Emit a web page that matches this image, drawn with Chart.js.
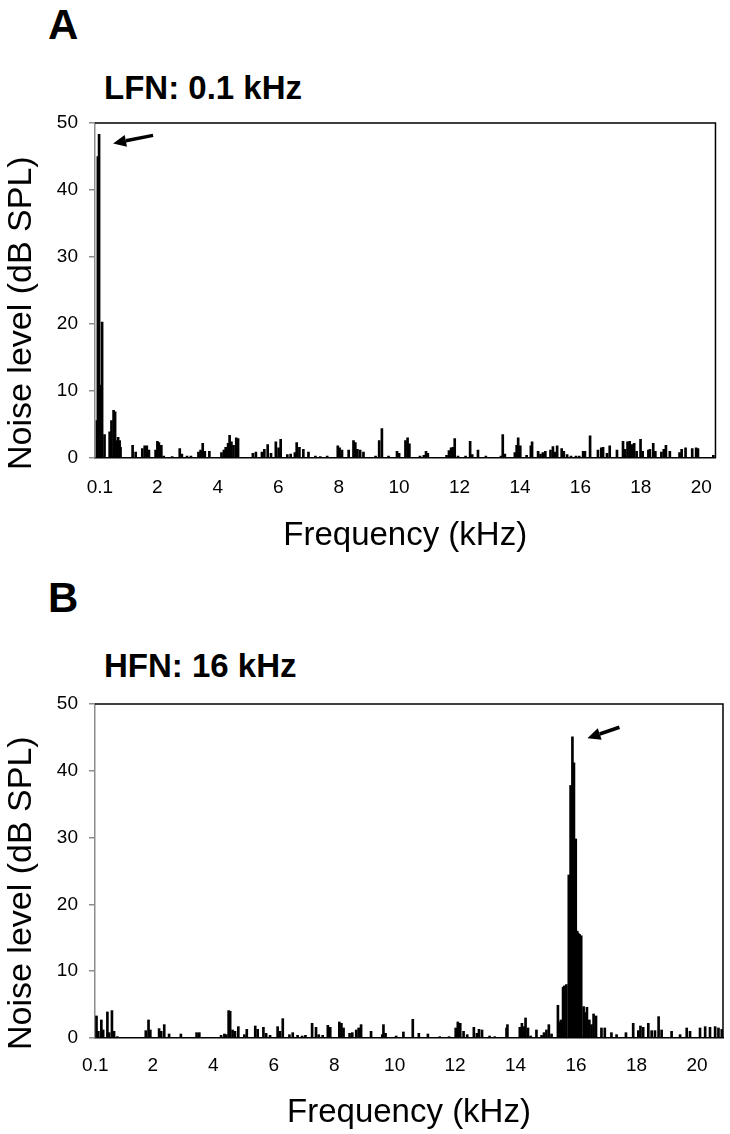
<!DOCTYPE html>
<html>
<head>
<meta charset="utf-8">
<script src="https://cdn.jsdelivr.net/npm/chart.js@4.4.1/dist/chart.umd.min.js"></script>
<style>
  html, body { margin: 0; padding: 0; background: #fff; }
  #pagina { position: relative; width: 730px; height: 1134px; font-family: 'Liberation Sans', Arial, sans-serif; color: #000; }
  .letra  { position: absolute; left: 48px; font-size: 42px; font-weight: bold; line-height: 42px; }
  .titulo { position: absolute; left: 104px; font-size: 33px; font-weight: bold; line-height: 33px; }
  .painel { position: absolute; left: 0; width: 730px; height: 567px; }
</style>
</head>
<body>
<div id="pagina">
  <div class="letra" style="top:4px">A</div>
  <div class="titulo" style="top:71px">LFN: 0.1 kHz</div>
  <div class="painel" style="top:0px"><canvas id="graficoA" width="730" height="567"></canvas></div>

  <div class="letra" style="top:577px">B</div>
  <div class="titulo" style="top:649px">HFN: 16 kHz</div>
  <div class="painel" style="top:567px"><canvas id="graficoB" width="730" height="567"></canvas></div>
</div>

<script>
// ── Dados (kHz / dB SPL) ──────────────────────────────────
var TICKS_X = [0.1, 2, 4, 6, 8, 10, 12, 14, 16, 18, 20];
var TICKS_Y = [0, 10, 20, 30, 40, 50];

// A: ruído de baixa frequência (pico em 0.1 kHz)
var FREQ_A = [
  0.00, 0.03, 0.07, 0.10, 0.17, 0.25, 0.42, 0.48, 0.55, 0.60, 0.65, 0.70, 0.75, 0.78,
  1.18, 1.28, 1.50, 1.58, 1.65, 1.72, 1.94, 2.00, 2.05, 2.13, 2.21, 2.49, 2.74, 2.81,
  2.98, 3.11, 3.36, 3.43, 3.50, 3.57, 3.72, 4.12, 4.20, 4.26, 4.34, 4.39, 4.45, 4.52,
  4.61, 4.67, 5.16, 5.26, 5.46, 5.54, 5.65, 5.76, 5.92, 6.01, 6.08, 6.30, 6.41, 6.55,
  6.61, 6.70, 6.83, 7.00, 7.23, 7.39, 7.62, 7.97, 8.03, 8.11, 8.33, 8.49, 8.55, 8.62,
  8.71, 8.82, 9.22, 9.34, 9.43, 9.65, 9.93, 10.00, 10.21, 10.28, 10.34, 10.69, 10.82,
  10.89, 10.95, 11.57, 11.65, 11.72, 11.78, 11.84, 11.95, 12.20, 12.35, 12.42, 12.61,
  12.87, 13.37, 13.43, 13.50, 13.83, 13.89, 13.94, 14.01, 14.22, 14.36, 14.40, 14.60,
  14.68, 14.76, 14.84, 15.01, 15.09, 15.16, 15.23, 15.38, 15.45, 15.56, 15.69, 15.85,
  15.96, 16.09, 16.15, 16.32, 16.58, 16.69, 16.75, 16.88, 16.97, 17.21, 17.41, 17.48,
  17.56, 17.63, 17.70, 17.78, 17.86, 17.99, 18.06, 18.25, 18.30, 18.41, 18.48, 18.68,
  18.76, 18.83, 18.96, 19.28, 19.35, 19.48, 19.70, 19.83, 19.89, 20.40
];
var NIVEL_A = [
  5.6, 45.0, 48.3, 10.9, 20.3, 3.5, 3.9, 5.6, 7.1, 6.9, 2.6, 3.1, 2.6, 1.6,
  1.9, 0.9, 1.4, 1.8, 1.8, 1.2, 1.2, 2.5, 2.3, 1.9, 0.3, 0.2, 1.4, 0.6,
  0.3, 0.3, 0.9, 1.2, 2.2, 1.0, 1.0, 0.8, 1.2, 1.6, 2.2, 3.4, 2.4, 1.9,
  3.0, 2.9, 0.7, 0.9, 0.9, 1.3, 2.0, 0.7, 2.4, 1.5, 2.8, 0.5, 0.6, 0.8,
  2.3, 1.6, 1.3, 0.9, 0.3, 0.2, 0.3, 1.8, 1.5, 1.2, 1.2, 2.6, 2.3, 1.3,
  1.2, 0.9, 0.3, 2.6, 4.4, 0.3, 1.0, 0.7, 2.6, 3.0, 2.1, 0.3, 0.4,
  1.0, 0.7, 0.4, 1.1, 1.5, 1.6, 2.9, 0.3, 0.3, 2.5, 0.5, 1.2,
  0.3, 0.3, 3.5, 0.6, 0.8, 1.9, 3.0, 1.8, 0.4, 1.8, 2.4, 1.0,
  0.6, 0.8, 1.0, 1.2, 1.7, 0.9, 1.8, 1.4, 1.0, 0.5, 0.3, 0.3,
  0.3, 1.0, 1.0, 3.3, 1.2, 1.5, 1.6, 0.7, 1.8, 1.2, 2.5, 1.3,
  2.4, 2.5, 2.0, 2.2, 1.0, 2.8, 1.0, 1.2, 1.3, 2.2, 1.0, 0.9,
  1.3, 1.9, 1.0, 0.8, 1.3, 1.5, 1.4, 1.5, 1.4, 0.4
];

// B: ruído de alta frequência (pico em 16 kHz)
var FREQ_B = [
  0.14, 0.20, 0.30, 0.36, 0.50, 0.56, 0.65, 0.72, 0.83, 1.77, 1.86, 1.92, 2.21, 2.28,
  2.38, 2.54, 2.93, 3.45, 3.54, 4.26, 4.37, 4.43, 4.51, 4.56, 4.64, 4.72, 4.83, 5.03,
  5.11, 5.39, 5.47, 5.66, 5.75, 5.88, 6.13, 6.21, 6.30, 6.52, 6.63, 6.79, 6.94, 7.05,
  7.27, 7.40, 7.49, 7.62, 7.79, 7.87, 8.17, 8.24, 8.31, 8.51, 8.60, 8.73, 8.81, 8.89,
  9.22, 9.59, 9.63, 9.70, 10.05, 10.29, 10.60, 10.80, 11.10, 11.49, 11.80, 12.02, 12.09,
  12.17, 12.28, 12.40, 12.62, 12.72, 12.79, 12.89, 13.14, 13.31, 13.70, 13.73, 14.14,
  14.21, 14.28, 14.33, 14.41, 14.50, 14.69, 14.86, 14.94, 15.02, 15.10, 15.19, 15.40,
  15.46, 15.50, 15.57, 15.61, 15.68, 15.76, 15.82, 15.88, 15.93, 15.99, 16.04, 16.07,
  16.12, 16.17, 16.25, 16.30, 16.36, 16.44, 16.51, 16.58, 16.66, 16.84, 16.95, 17.17,
  17.34, 17.65, 17.89, 18.06, 18.13, 18.22, 18.39, 18.50, 18.61, 18.73, 18.83, 19.16,
  19.44, 19.66, 19.77, 20.10, 20.27, 20.43, 20.60, 20.71, 20.82
];
var NIVEL_B = [
  3.3, 1.0, 2.7, 1.2, 3.9, 0.8, 4.1, 1.0, 0.2, 1.1, 2.7, 1.2, 1.4, 1.0,
  2.0, 0.6, 0.6, 0.8, 0.8, 0.4, 0.6, 0.5, 4.1, 4.0, 1.2, 1.0, 1.7, 0.5,
  1.3, 1.8, 1.3, 1.6, 0.7, 0.4, 1.7, 1.0, 2.9, 0.5, 0.8, 0.4, 0.3, 0.4,
  2.2, 1.6, 0.5, 0.4, 1.9, 1.6, 2.4, 2.2, 1.5, 0.7, 0.8, 1.2, 1.5, 2.0,
  1.0, 0.5, 2.0, 0.7, 0.3, 0.9, 2.8, 0.7, 0.6, 0.2, 0.2, 1.5, 2.4,
  2.2, 1.0, 0.5, 1.6, 0.7, 1.3, 1.2, 0.3, 0.2, 1.5, 2.0, 1.6,
  2.2, 1.7, 3.0, 1.5, 0.3, 1.2, 0.4, 0.8, 1.2, 2.0, 0.6, 4.9,
  2.4, 2.7, 7.6, 7.8, 8.0, 24.4, 37.8, 45.1, 41.2, 29.8, 16.0, 15.7,
  15.5, 15.3, 4.7, 3.8, 4.6, 2.7, 2.0, 3.6, 3.3, 1.5, 1.5, 0.8,
  0.5, 0.8, 2.2, 1.1, 1.8, 1.6, 2.2, 1.1, 1.1, 3.2, 1.2, 1.0,
  0.5, 1.5, 1.0, 1.5, 1.7, 1.6, 1.7, 1.5, 1.3
];

// ── Paleta ────────────────────────────────────────────────
var PRETO = '#000000';
var CINZA = '#8c8c8c';
var FONTE = "'Liberation Sans', Arial, sans-serif";

Chart.defaults.font.family = FONTE;
Chart.defaults.color = PRETO;

// moldura: bordas de cima e da direita em preto
var molduraPlugin = {
  id: 'moldura',
  afterDraw: function(chart) {
    var a = chart.chartArea, ctx = chart.ctx;
    ctx.save();
    ctx.strokeStyle = PRETO;
    ctx.lineWidth = 1.5;
    ctx.beginPath();
    ctx.moveTo(a.left, a.top);
    ctx.lineTo(a.right, a.top);
    ctx.lineTo(a.right, a.bottom);
    ctx.stroke();
    ctx.restore();
  }
};

// título do eixo Y, começando um pouco abaixo da base do gráfico
var tituloYPlugin = {
  id: 'tituloY',
  afterDraw: function(chart, args, o) {
    var ctx = chart.ctx;
    ctx.save();
    ctx.translate(o.x, chart.chartArea.bottom + o.recuo);
    ctx.rotate(-Math.PI / 2);
    ctx.font = o.tamanho + 'px ' + FONTE;
    ctx.fillStyle = PRETO;
    ctx.textAlign = 'left';
    ctx.textBaseline = 'middle';
    ctx.fillText(o.texto, 0, 0);
    ctx.restore();
  }
};

// seta apontando o pico
var setaPlugin = {
  id: 'seta',
  afterDraw: function(chart, args, o) {
    var ctx = chart.ctx;
    var hx = chart.scales.x.getPixelForValue(o.x) + o.dx;
    var hy = chart.scales.y.getPixelForValue(o.y) + o.dy;
    var tx = hx + o.tx, ty = hy + o.ty;
    var ang = Math.atan2(hy - ty, hx - tx);
    var comp = 13, larg = 6;
    var bx = hx - comp * Math.cos(ang), by = hy - comp * Math.sin(ang);
    ctx.save();
    ctx.strokeStyle = PRETO;
    ctx.fillStyle = PRETO;
    ctx.lineWidth = 3.5;
    ctx.beginPath(); ctx.moveTo(tx, ty); ctx.lineTo(bx, by); ctx.stroke();
    ctx.beginPath();
    ctx.moveTo(hx, hy);
    ctx.lineTo(bx + larg * Math.sin(ang), by - larg * Math.cos(ang));
    ctx.lineTo(bx - larg * Math.sin(ang), by + larg * Math.cos(ang));
    ctx.closePath();
    ctx.fill();
    ctx.restore();
  }
};

function montarGrafico(id, freqs, niveis, cfg) {
  var pontos = freqs.map(function(f, i) { return { x: f, y: niveis[i] }; });
  return new Chart(document.getElementById(id), {
    type: 'bar',
    data: {
      datasets: [{
        data: pontos,
        backgroundColor: PRETO,
        borderWidth: 0,
        barThickness: 2
      }]
    },
    options: {
      responsive: false,
      animation: false,
      layout: { padding: { top: cfg.topo, right: 7, left: 0, bottom: 0 } },
      plugins: {
        legend: { display: false },
        tooltip: { enabled: false },
        seta: cfg.seta,
        tituloY: { texto: 'Noise level (dB SPL)', tamanho: 34, x: 22, recuo: 12 }
      },
      scales: {
        x: {
          type: 'linear',
          min: cfg.xMin,
          max: cfg.xMax,
          offset: false,
          grid: { display: false, drawTicks: false, offset: false },
          border: { display: true, color: PRETO, width: 1.5 },
          afterBuildTicks: function(s) {
            s.ticks = TICKS_X.map(function(v) { return { value: v }; });
          },
          afterFit: function(s) { s.height = cfg.alturaX; },
          ticks: {
            autoSkip: false, maxRotation: 0, padding: cfg.padX,
            font: { size: 19 }, color: PRETO,
            callback: function(v) { return String(v); }
          },
          title: {
            display: true, text: 'Frequency (kHz)', color: PRETO,
            font: { size: 33 }, padding: { top: 0, bottom: cfg.padTituloX }
          }
        },
        y: {
          min: TICKS_Y[0],
          max: TICKS_Y[TICKS_Y.length - 1],
          afterBuildTicks: function(s) {
            s.ticks = TICKS_Y.map(function(v) { return { value: v }; });
          },
          afterFit: function(s) { s.width = 95; },
          grid: { drawOnChartArea: false, drawTicks: true, tickLength: 6, color: CINZA, lineWidth: 1.5 },
          border: { color: CINZA, width: 1.5 },
          ticks: { padding: 11, font: { size: 19 }, color: PRETO }
        }
      }
    },
    plugins: [molduraPlugin, tituloYPlugin, setaPlugin]
  });
}

montarGrafico('graficoA', FREQ_A, NIVEL_A, {
  topo: 123, alturaX: 109, xMin: -0.065, xMax: 20.47, padX: 18, padTituloX: 11,
  seta: { x: 0.07, y: 48.3, dx: 14, dy: 9, tx: 40, ty: -8 }
});

montarGrafico('graficoB', FREQ_B, NIVEL_B, {
  topo: 137, alturaX: 96, xMin: 0.09, xMax: 20.86, padX: 16, padTituloX: 1,
  seta: { x: 15.88, y: 45.1, dx: 15, dy: 1.5, tx: 32, ty: -11 }
});
</script>
</body>
</html>
